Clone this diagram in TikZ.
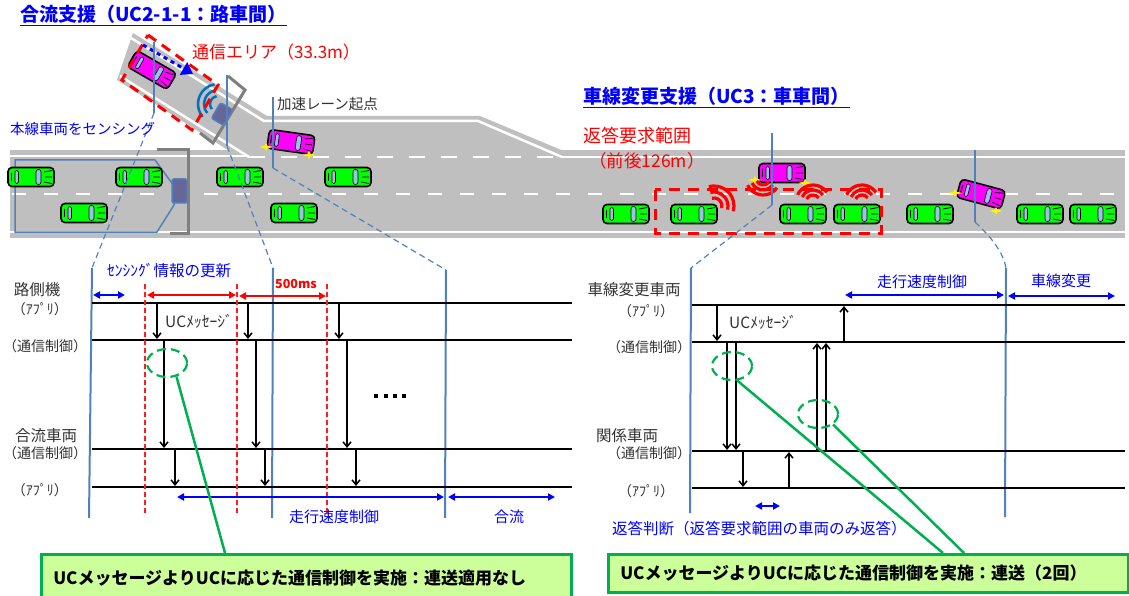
\documentclass[tikz,border=0pt]{standalone}
\usepackage{fontspec}
\setmainfont{Noto Sans CJK JP}
\usetikzlibrary{arrows.meta,shapes.geometric}

\definecolor{roadgray}{RGB}{191,191,191}
\definecolor{lineblue}{RGB}{79,129,189}
\definecolor{txtblue}{RGB}{0,0,255}
\definecolor{boxgreen}{RGB}{0,176,80}
\definecolor{boxfill}{RGB}{204,255,153}
\definecolor{carmag}{RGB}{255,0,255}
\definecolor{cargreen}{RGB}{0,255,0}
\definecolor{winblue}{RGB}{155,194,230}
\definecolor{wavblue}{RGB}{0,112,192}
\definecolor{gantry}{RGB}{127,127,127}
\definecolor{txtgray}{RGB}{50,50,50}
\definecolor{tickred}{RGB}{255,30,30}

\tikzset{
  pics/car/.style={code={
    \draw[line width=1.6pt, fill=#1, rounded corners=4pt] (-23,-9.5) rectangle (23,9.5);
    \draw[line width=0.6pt, fill=winblue, rounded corners=1.5pt] (-16,-6.5) rectangle (-12.5,6.5);
    \draw[line width=0.6pt, fill=winblue, rounded corners=2.5pt] (5,-7.5) rectangle (10,7.5);
    \draw[line width=1pt] (-20,-4) -- (-20,4);
    \draw[line width=0.8pt] (13,-5) -- (21,-6.5) (13,5) -- (21,6.5) (14,0) -- (21,0);
  }},
  pics/waves/.style={code={
    \foreach \r in {#1} \draw (-60:\r) arc[start angle=-60, end angle=60, radius=\r];
  }},
  pics/flash/.style={code={
    \fill[yellow] (-7,0) -- (-1.5,-1.3) -- (0,-4) -- (1.5,-1.3) -- (7,0)
      -- (1.5,1.3) -- (0,4) -- (-1.5,1.3) -- cycle;
  }},
}

\begin{document}
\begin{tikzpicture}[x=1pt, y=-1pt, >=Stealth,
    tline/.style={line width=1.5pt},
    marker/.style={lineblue, line width=2pt},
    guide/.style={lineblue, line width=1.2pt, dash pattern=on 6pt off 4pt},
    msg/.style={-{Straight Barb[length=5pt,width=8pt]}, line width=1.5pt},
    span/.style={{Triangle[length=7pt,width=7pt]}-{Triangle[length=7pt,width=7pt]}, line width=1.8pt},
    period/.style={draw=tickred, line width=1.4pt, dash pattern=on 5pt off 3pt},
    lbl/.style={inner sep=0pt, text=txtgray, font=\fontsize{15.5}{18}\selectfont},
    sub/.style={inner sep=0pt, text=txtgray, font=\fontsize{14}{16}\selectfont},
    app/.style={inner sep=0pt, text=txtgray, font=\fontsize{14}{16}\selectfont},
    note/.style={inner sep=0pt, text=txtblue, font=\fontsize{15}{18}\selectfont},
    ring/.style={ellipse, draw=boxgreen, line width=2.2pt, dash pattern=on 9pt off 5pt,
      minimum width=40pt, minimum height=28pt, inner sep=0pt},
    lead/.style={boxgreen, line width=2.5pt},
    callout/.style={draw=boxgreen, fill=boxfill, line width=2.5pt, anchor=north west,
      align=left, inner xsep=12pt, font=\bfseries\fontsize{17}{20}\selectfont},
    title/.style={anchor=base west, inner sep=0pt, text=txtblue,
      font=\bfseries\fontsize{19}{22}\selectfont}]
\useasboundingbox (0,0) rectangle (1129,596);

% road, ramp and acceleration lane
\fill[roadgray] (10,150) rectangle (1125,238);
\fill[roadgray] (117,80) -- (133,33) -- (267,116) -- (480,116) -- (566,152) -- (231,152) -- cycle;
\draw[white, line width=2.5pt] (10,156) -- (249,156);
\draw[white, line width=2.5pt] (562,157) -- (1125,157);
\draw[white, line width=2.5pt, dash pattern=on 16pt off 16pt] (249,157) -- (562,157);
\draw[white, line width=2.5pt, dash pattern=on 14pt off 18pt] (12,194) -- (1125,194);
\draw[white, line width=2.5pt] (10,232) -- (1125,232);
\draw[white, line width=2.5pt] (131,38) -- (264,121) -- (478,121) -- (562,157);
\draw[white, line width=2.5pt] (120,76) -- (249,157);

% sensing area of the roadside unit
\draw[lineblue, line width=1.5pt] (15,160) -- (155,160) -- (174,186) -- (174,205) -- (157,232) -- (15,232) -- cycle;

% vehicles
\foreach \x/\y in {31/177, 139/177, 240/177, 348/177, 84/213, 294/213, 626/214, 694/214,
    803/214, 857/214, 930/214, 1040/214, 1093/214}
  \pic at (\x,\y) {car=cargreen};
\pic[rotate=-30] at (152,70) {car=carmag};
\pic[rotate=-8] at (291,142) {car=carmag};
\pic at (782,173) {car=carmag};
\pic[rotate=-15] at (981,194) {car=carmag};
\foreach \x/\y in {266/147, 309/155, 755/180, 805/183, 955/193, 996/211}
  \pic at (\x,\y) {flash};

% roadside units
\draw[gantry, line width=3pt] (157,150) -- (188,150) -- (188,233) -- (170,233);
\draw[gantry, line width=3pt] (228,76) -- (245,90) -- (213,143) -- (200,133);
\draw[lineblue, line width=1.5pt, fill=gray!80!blue, rounded corners=2pt] (172,179) rectangle (187,203);
\draw[lineblue, line width=1.5pt, fill=gray!80!blue, rounded corners=2pt, rotate around={-30:(222,114)}]
  (215,105) rectangle (229,123);

% radio waves
\pic[wavblue, line width=2.5pt, rotate=160] at (218,104) {waves={8,14,20}};
\pic[red, line width=3.2pt, rotate=45] at (714,206) {waves={8,14,20}};
\pic[red, line width=3.2pt, rotate=-95] at (763,178) {waves={7,12,17}};
\pic[red, line width=3.2pt, rotate=95] at (813,202) {waves={7,12,17}};
\pic[red, line width=3.2pt, rotate=95] at (862,202) {waves={7,12,17}};

% communication area and response range
\draw[red, line width=3pt, dash pattern=on 10pt off 7pt] (148,35) -- (218,85) -- (192,130) -- (122,80) -- cycle;
\draw[red, line width=3pt, dash pattern=on 11pt off 8pt] (655,190) rectangle (881,233);
\draw[txtblue, line width=3pt, dash pattern=on 4pt off 4pt, -{Triangle[length=11pt,width=14pt]}] (143,45) -- (193,74);

% position markers and guides to the charts
\draw[marker] (154,42) -- (154,113);
\draw[marker] (227,75) -- (227,146);
\draw[marker] (273,97) -- (273,168);
\draw[marker] (772,133) -- (772,205);
\draw[marker] (975,150) -- (975,222);
\draw[guide] (154,113) -- (92,268);
\draw[guide] (227,146) -- (273,268);
\draw[guide] (273,168) -- (446,270);
\draw[guide] (772,205) -- (691,268);
\draw[guide] (975,222) .. controls (992,238) and (1003,252) .. (1006,268);
\draw[marker] (92,268) -- (89,518);
\draw[marker] (273,268) -- (272,518);
\draw[marker] (446,270) -- (445,518);
\draw[marker] (691,268) -- (690,513);
\draw[marker] (1006,268) -- (1005,517);

% texts on the road
\node[title] (ttlL) at (20,22) {\underline{合流支援（UC2-1-1：路車間）}};
\node[title] (ttlR) at (583,104) {\underline{車線変更支援（UC3：車車間）}};
\node[anchor=west, inner sep=0pt, text=red, font=\fontsize{17}{20}\selectfont] (area) at (192,52) {通信エリア（33.3m）};
\node[anchor=west, inner sep=0pt, text=txtgray, font=\fontsize{14.5}{17}\selectfont] (start) at (277,104) {加速レーン起点};
\node[anchor=west, inner sep=0pt, text=txtblue, font=\fontsize{14.5}{17}\selectfont] (sense) at (10,129) {本線車両をセンシング};
\node[anchor=west, inner sep=0pt, text=red, font=\fontsize{18}{21}\selectfont] (range) at (583,136) {返答要求範囲};
\node[anchor=west, inner sep=0pt, text=red, font=\fontsize{17.5}{21}\selectfont] (rangem) at (589,161) {（前後126m）};

% merging chart
\foreach \y in {303,340,449,487} \draw[tline] (92,\y) -- (572,\y);
\foreach \x in {145,237,327} \draw[period] (\x,284) -- (\x,515);
\foreach \x in {157,248,339} \draw[msg] (\x,304) -- (\x,339);
\foreach \x in {164,256,347} \draw[msg] (\x,341) -- (\x,448);
\foreach \x in {175,265,356} \draw[msg] (\x,450) -- (\x,486);
\foreach \x in {376,386,395,404} \fill (\x-1.8,394.2) rectangle (\x+1.8,397.8);
\draw[span, txtblue] (93,295) -- (125,295);
\draw[span, red] (147,295) -- (236,295);
\draw[span, red] (239,296) -- (326,296);
\draw[span, txtblue] (177,497) -- (444,497);
\draw[span, txtblue] (448,497) -- (555,497);
\node[lbl] (rsu) at (37,290) {路側機};
\node[app] (rsuapp) at (40,309) {（ｱﾌﾟﾘ）};
\node[sub] (rsucom) at (45,346) {（通信制御）};
\node[lbl] (mrg) at (46,436) {合流車両};
\node[sub] (mrgcom) at (45,453) {（通信制御）};
\node[app] (mrgapp) at (40,490) {（ｱﾌﾟﾘ）};
\node[note, font=\fontsize{15.5}{18}\selectfont] (upd) at (169,271) {ｾﾝｼﾝｸﾞ情報の更新};
\node[inner sep=0pt, text=red, font=\bfseries\fontsize{12.5}{15}\selectfont] (cyc) at (296,284) {500ms};
\node[inner sep=0pt, text=txtgray, font=\fontsize{15.5}{18}\selectfont] (ucL) at (199,321) {UCﾒｯｾｰｼﾞ};
\node[note] (spdL) at (334,517) {走行速度制御};
\node[note] (join) at (509,517) {合流};

% lane change chart
\foreach \y in {305,342,451,488} \draw[tline] (692,\y) -- (1125,\y);
\draw[msg] (717,306) -- (717,341);
\foreach \x in {727,736} \draw[msg] (\x,343) -- (\x,450);
\draw[msg] (743,452) -- (743,487);
\draw[msg] (789,487) -- (789,452);
\foreach \x in {817,826} \draw[msg] (\x,450) -- (\x,343);
\draw[msg] (844,341) -- (844,306);
\draw[span, txtblue] (755,506) -- (780,506);
\draw[span, txtblue] (845,295) -- (1004,295);
\draw[span, txtblue] (1008,296) -- (1115,296);
\node[lbl] (lcv) at (634,290) {車線変更車両};
\node[app] (lcvapp) at (646,311) {（ｱﾌﾟﾘ）};
\node[sub] (lcvcom) at (649,347) {（通信制御）};
\node[lbl] (rel) at (627,436) {関係車両};
\node[sub] (relcom) at (649,453) {（通信制御）};
\node[app] (relapp) at (646,491) {（ｱﾌﾟﾘ）};
\node[inner sep=0pt, text=txtgray, font=\fontsize{15.5}{18}\selectfont] (ucR) at (763,322) {UCﾒｯｾｰｼﾞ};
\node[note, anchor=west, font=\fontsize{15.5}{18}\selectfont] (judge) at (612,529) {返答判断（返答要求範囲の車両のみ返答）};
\node[note] (spdR) at (922,282) {走行速度制御};
\node[note] (lchg) at (1061,281) {車線変更};

% call-outs
\node[ring] (ringL) at (167,363) {};
\node[ring] (ringR) at (732,366) {};
\node[ring] (ringS) at (818,414) {};
\node[callout, minimum height=47pt, text width=506pt] (boxL) at (40,553)
  {UCメッセージよりUCに応じた通信制御を実施：連送適用なし};
\node[callout, minimum height=38pt, text width=496pt] (boxR) at (607,553)
  {UCメッセージよりUCに応じた通信制御を実施：連送（2回）};
\draw[lead] (ringL.-55) -- (225,0 |- boxL.north);
\draw[lead] (ringR.-70) -- (943,0 |- boxR.north);
\draw[lead] (ringS.-35) -- (964,0 |- boxR.north);
\end{tikzpicture}
\end{document}
